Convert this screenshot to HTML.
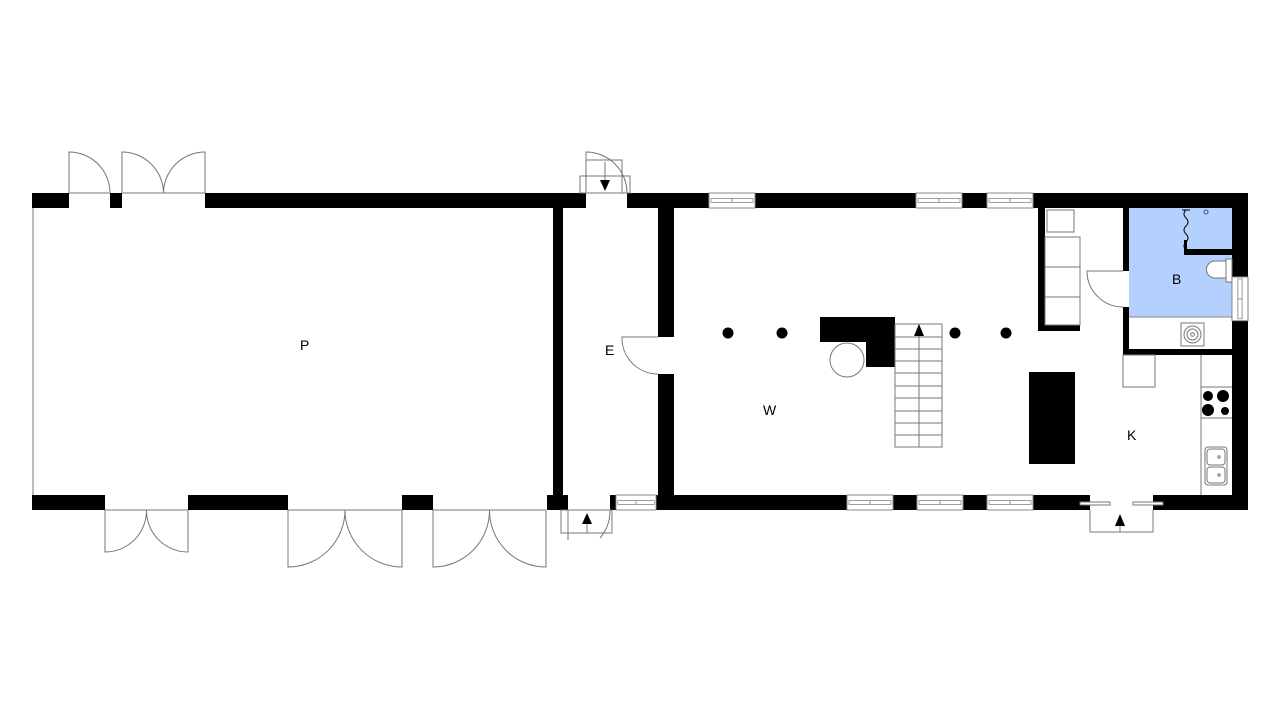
<!DOCTYPE html>
<html><head><meta charset="utf-8"><style>
html,body{margin:0;padding:0;background:#fff;}
svg{display:block;}
text{font-family:"Liberation Sans",sans-serif;font-size:14px;fill:#000;}
</style></head><body>
<svg width="1280" height="720" viewBox="0 0 1280 720" xmlns="http://www.w3.org/2000/svg">
<defs>
<g id="winH"><rect x="0" y="0" width="46" height="15" fill="#fff" stroke="#888" stroke-width="1"/><rect x="2" y="5.5" width="42" height="4" fill="#fff" stroke="#888" stroke-width="0.8"/><line x1="23" y1="5.5" x2="23" y2="9.5" stroke="#888"/></g>
</defs>
<rect width="1280" height="720" fill="#fff"/>
<!-- bathroom fill -->
<rect x="1129" y="208" width="103" height="109" fill="#b3d0ff"/>
<line x1="1129" y1="317" x2="1232" y2="317" stroke="#888" stroke-width="1"/>
<!-- P thin left wall -->
<line x1="33" y1="193" x2="33" y2="510" stroke="#777" stroke-width="1"/>
<g fill="#000">
<!-- top wall -->
<rect x="32" y="193" width="37" height="15"/>
<rect x="110" y="193" width="12" height="15"/>
<rect x="205" y="193" width="381" height="15"/>
<rect x="627" y="193" width="621" height="15"/>
<!-- bottom wall -->
<rect x="32" y="495" width="73" height="15"/>
<rect x="188" y="495" width="100" height="15"/>
<rect x="402" y="495" width="31" height="15"/>
<rect x="547" y="495" width="21" height="15"/>
<rect x="610" y="495" width="6" height="15"/>
<rect x="656" y="495" width="434" height="15"/>
<rect x="1153" y="495" width="95" height="15"/>
<!-- E walls -->
<rect x="553" y="208" width="10" height="287"/>
<rect x="658" y="208" width="16" height="129"/>
<rect x="658" y="374" width="16" height="121"/>
<!-- right outer -->
<rect x="1232" y="193" width="16" height="317"/>
<!-- cabinet wall -->
<rect x="1038" y="208" width="7" height="123"/>
<rect x="1038" y="325" width="42" height="6"/>
<!-- bathroom walls -->
<rect x="1123" y="208" width="6" height="63"/>
<rect x="1123" y="307" width="6" height="48"/>
<rect x="1123" y="349" width="109" height="6"/>
<rect x="1184" y="249" width="48" height="6"/>
<rect x="1184" y="240" width="3" height="15"/>
<!-- columns -->
<circle cx="728" cy="333" r="5.5"/>
<circle cx="782" cy="333" r="5.5"/>
<circle cx="955" cy="333" r="5.5"/>
<circle cx="1006" cy="333" r="5.5"/>
<!-- chimney -->
<path d="M820 317 H895 V367 H866 V342 H820 Z"/>
<!-- island -->
<rect x="1029" y="372" width="46" height="92"/>
</g>
<!-- windows -->
<use href="#winH" x="709" y="193"/>
<use href="#winH" x="916" y="193"/>
<use href="#winH" x="987" y="193"/>
<use href="#winH" x="847" y="495"/>
<use href="#winH" x="917" y="495"/>
<use href="#winH" x="987" y="495"/>
<use href="#winH" x="616" y="495" transform="translate(616 495) scale(0.87 1) translate(-616 -495)"/>
<use href="#winH" transform="translate(1248 277) rotate(90) scale(0.95 1.07)"/>
<g fill="none" stroke="#777" stroke-width="1">
<!-- top doors P -->
<line x1="69" y1="193" x2="110" y2="193"/>
<path d="M69 193 V152 A41 41 0 0 1 110 193"/>
<line x1="122" y1="193" x2="205" y2="193"/>
<path d="M122 193 V152 A41.5 41.5 0 0 1 163.5 193"/>
<path d="M205 193 V152 A41.5 41.5 0 0 0 163.5 193"/>
<!-- bottom doors P -->
<line x1="105" y1="510" x2="188" y2="510"/>
<path d="M105 510 V552 A41.5 41.5 0 0 0 146.5 510"/>
<path d="M188 510 V552 A41.5 41.5 0 0 1 146.5 510"/>
<line x1="288" y1="510" x2="402" y2="510"/>
<path d="M288 510 V567 A57 57 0 0 0 345 510"/>
<path d="M402 510 V567 A57 57 0 0 1 345 510"/>
<line x1="433" y1="510" x2="546" y2="510"/>
<path d="M433 510 V567 A56.5 56.5 0 0 0 489.5 510"/>
<path d="M546 510 V567 A56.5 56.5 0 0 1 489.5 510"/>
<!-- E top door -->
<rect x="580" y="176" width="50" height="17"/>
<rect x="586" y="160" width="36" height="33"/>
<path d="M586 193 V152 A41 41 0 0 1 627 193"/>
<line x1="605" y1="162" x2="605" y2="183"/>
<!-- E bottom door -->
<rect x="561" y="510" width="51" height="23"/>
<line x1="568" y1="510" x2="568" y2="540"/>
<path d="M610 510 A42 42 0 0 1 600 538"/>
<line x1="587" y1="520" x2="587" y2="533"/>
<!-- E/W door -->
<path d="M658 337 H622 A36 36 0 0 0 658 374"/>
<!-- stairs -->
<rect x="895" y="324" width="47" height="123"/>
<line x1="919" y1="324" x2="919" y2="447"/>
<path d="M895 337H942M895 349H942M895 361H942M895 373H942M895 386H942M895 398H942M895 411H942M895 423H942M895 435H942"/>
<circle cx="847" cy="360" r="17"/>
<!-- cabinets -->
<rect x="1047" y="210" width="27" height="22"/>
<rect x="1045" y="237" width="35" height="30"/>
<rect x="1045" y="267" width="35" height="30"/>
<rect x="1045" y="297" width="35" height="28"/>
<!-- bathroom door -->
<path d="M1123 271 H1087 A36 36 0 0 0 1123 307"/>
<!-- shower curtain -->
<path d="M1186 210 q-4 4 0 8 q4 4 0 8 q-4 4 0 8 q4 4 0 8 q-4 4 0 8" stroke="#000"/>
<line x1="1182" y1="210" x2="1190" y2="210" stroke="#000"/>
<circle cx="1206" cy="212" r="2" stroke="#555"/>
<!-- toilet -->
<rect x="1226" y="259" width="6" height="23" fill="#fff"/>
<path d="M1226 261 H1215 A8.5 8.5 0 0 0 1215 278 H1226 Z" fill="#fff"/>
<!-- washing machine -->
<rect x="1181" y="323" width="23" height="23"/>
<circle cx="1192.5" cy="334.5" r="8.5"/>
<circle cx="1192.5" cy="334.5" r="5.5"/>
<circle cx="1192.5" cy="334.5" r="1.8"/>
<!-- kitchen -->
<rect x="1123" y="355" width="32" height="32"/>
<line x1="1201" y1="355" x2="1201" y2="495"/>
<line x1="1201" y1="387" x2="1232" y2="387"/>
<line x1="1201" y1="418" x2="1232" y2="418"/>
<rect x="1205" y="447" width="22" height="38" rx="3"/>
<rect x="1207" y="449" width="18" height="16" rx="3"/>
<rect x="1207" y="467" width="18" height="16" rx="3"/>
<circle cx="1219" cy="457" r="1.2"/>
<circle cx="1219" cy="475" r="1.2"/>
<!-- K bottom door -->
<path d="M1090 510 V532 H1153 V510"/>
<line x1="1120" y1="520" x2="1120" y2="532"/>
</g>
<!-- sliding door marks -->
<rect x="1080" y="502" width="30" height="3" fill="#fff" stroke="#777" stroke-width="1"/>
<rect x="1133" y="502" width="30" height="3" fill="#fff" stroke="#777" stroke-width="1"/>
<!-- hob -->
<g fill="#000">
<circle cx="1208" cy="396" r="5"/>
<circle cx="1223" cy="396" r="6"/>
<circle cx="1208" cy="410" r="6"/>
<circle cx="1225" cy="411" r="4"/>
<!-- arrows -->
<path d="M600 180 H610 L605 191 Z"/>
<path d="M582 524 H592 L587 513 Z"/>
<path d="M914 336 H924 L919 324 Z"/>
<path d="M1115 526 H1125 L1120 514 Z"/>
</g>
<text x="300" y="350">P</text>
<text x="605" y="355">E</text>
<text x="763" y="415">W</text>
<text x="1172" y="284">B</text>
<text x="1127" y="440">K</text>
</svg>
</body></html>
